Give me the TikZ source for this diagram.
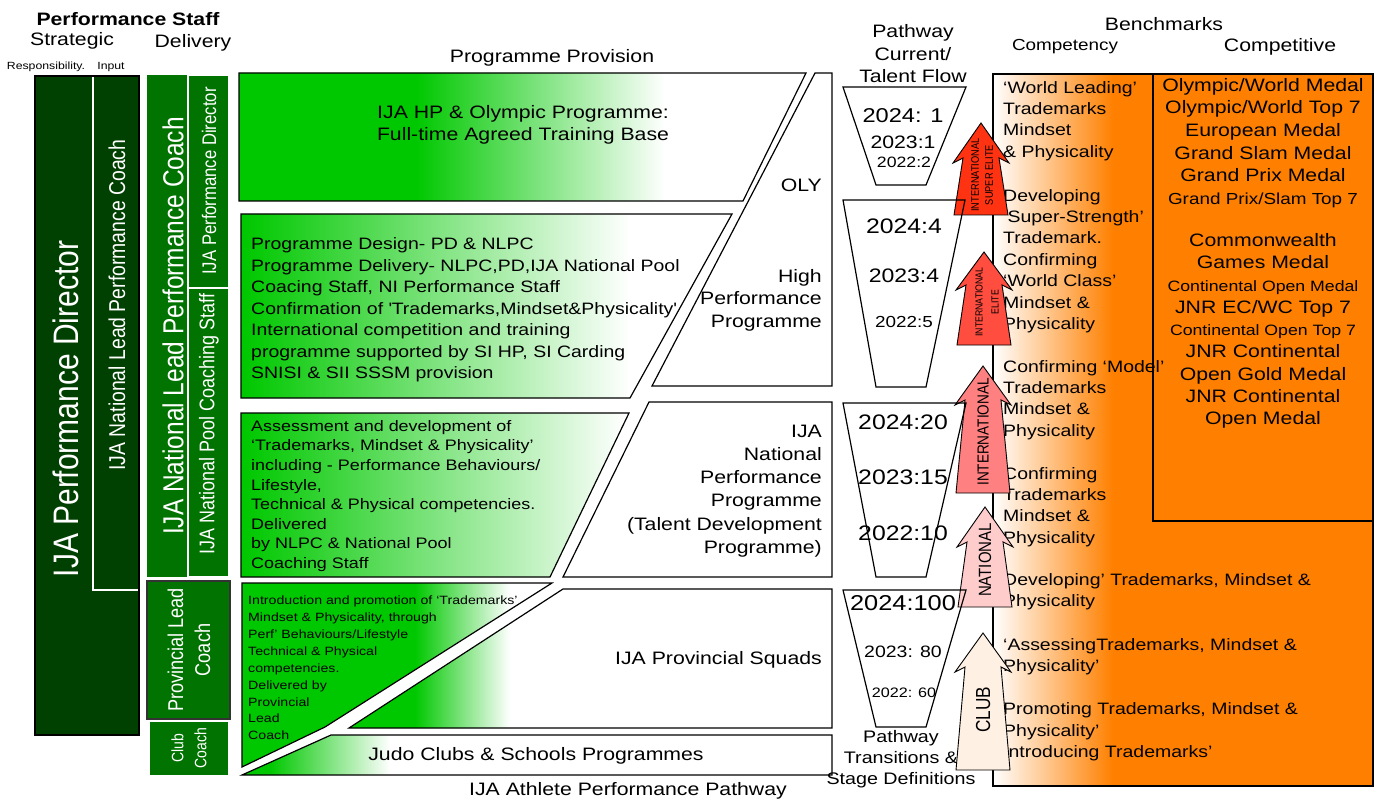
\documentclass[tikz,border=0pt]{standalone}
\usepackage{fontspec}
\setmainfont{Liberation Sans}[FakeStretch=1.18]
\newfontfamily\rotfont{Liberation Sans}[FakeStretch=0.847]
\usetikzlibrary{positioning}

\newcommand{\fsize}[2]{\fontsize{#1}{#2}\selectfont}
% up-pointing stage arrow: centre x, tip y, head y, foot y, colour
\newcommand{\stagearrow}[5]{%
	\filldraw[fill=#5,draw=black,line width=0.9pt] (#1,#2) -- (#1-28,#3) -- (#1-18,#3-5) -- (#1-27,#4)
		-- (#1+27,#4) -- (#1+18,#3-5) -- (#1+28,#3) -- cycle;}

\begin{document}
\begin{tikzpicture}
		[x=1pt,y=-1pt,
		%Styles
		every node/.style={inner sep=0pt},
		box line/.style={draw=black,line width=1.2pt},
		heading/.style={font=\fsize{18}{22.5}},
		side text/.style={rotate=90,text=white,align=center},
		stage text/.style={rotate=90,align=center},
		left block/.style={anchor=west,align=left},
		right block/.style={anchor=east,align=right},
		green fade/.style 2 args={path picture={
			\fill[provgreen] (0,0) rectangle (#1,800);
			\shade[left color=provgreen,right color=white] (#1,0) rectangle (#2,800);}},
		orange fade/.style 2 args={path picture={
			\fill[benchorange] (#2,0) rectangle (1400,800);
			\shade[left color=white,right color=benchorange] (#1,0) rectangle (#2,800);}}
		]
		
		%Colors
		\definecolor{darkgreen}{RGB}{0,64,0}
		\definecolor{delivgreen}{RGB}{0,115,0}
		\definecolor{provgreen}{RGB}{0,200,0}
		\definecolor{benchorange}{RGB}{255,128,0}
		\definecolor{supercol}{RGB}{255,51,17}
		\definecolor{elitecol}{RGB}{255,77,64}
		\definecolor{intlcol}{RGB}{255,128,128}
		\definecolor{natlcol}{RGB}{255,204,204}
		\definecolor{clubcol}{RGB}{255,240,228}
		
		%The graphic
		\useasboundingbox (0,0) rectangle (1380,799);
		
		% headings
		\node[font=\bfseries\fsize{18}{22}] (staff) at (128,19) {Performance Staff};
		\node[heading] (strategic) at (72,41) {Strategic};
		\node[heading] (delivery) at (193,43) {Delivery};
		\node[font=\fsize{10.4}{12}] (resp) at (46,67) {Responsibility.};
		\node[font=\fsize{10.4}{12}] (input) at (111,67) {Input};
		\node[heading] (provision) at (552,58) {Programme Provision};
		\node[heading,align=center] (flowhead) at (913,54) {Pathway\\Current/\\Talent Flow};
		\node[heading] (benchhead) at (1164,24) {Benchmarks};
		\node[font=\fsize{16}{20}] (competency) at (1065,47) {Competency};
		\node[heading] (competitive) at (1280,47) {Competitive};
		
		% strategic bars
		\fill[darkgreen] (35,76) rectangle (139,735);
		\draw[white,line width=1.2pt] (93,77) -- (93,590) -- (139,590);
		\draw[black,line width=1.5pt] (35,76) rectangle (139,735);
		\node[side text,font=\rotfont\fsize{35.4}{36}] (pd) at (66,409) {IJA Performance Director};
		\node[side text,font=\rotfont\fsize{22.9}{24}] (nlpc) at (117,305) {IJA National Lead Performance Coach};
		
		% delivery bars
		\fill[delivgreen] (147,75) rectangle (229,577);
		\draw[white,line width=1.2pt] (188,75) rectangle (229,288) (188,288) rectangle (229,577);
		\node[side text,font=\rotfont\fsize{28.9}{30}] (nlpcdel) at (173,326) {IJA National Lead Performance Coach};
		\node[side text,font=\rotfont\fsize{19.7}{20}] (pddel) at (209,181) {IJA Performance Director};
		\node[side text,font=\rotfont\fsize{21.2}{22}] (pool) at (209,424) {IJA National Pool Coaching Staff};
		\filldraw[fill=delivgreen,draw=black!80,line width=1.2pt] (147,581) rectangle (230,719);
		\node[side text,font=\rotfont\fsize{21.4}{27}] (provcoach) at (189,650) {Provincial Lead\\Coach};
		\filldraw[fill=delivgreen,draw=white,line width=1.2pt] (149,721) rectangle (229,776);
		\node[side text,font=\rotfont\fsize{16.5}{23}] (clubcoach) at (189,748) {Club\\Coach};
		
		% programme provision
		\draw[box line,green fade={416}{665}] (239,73) -- (806,73) -- (743,201) -- (239,201) -- cycle;
		\node[heading,align=center] (olyprov) at (523,125) {IJA HP \& Olympic Programme:\\Full-time Agreed Training Base};
		\draw[box line,green fade={245}{630}] (241,214) -- (732,214) -- (630,398) -- (241,398) -- cycle;
		\node[left block,font=\fsize{16.5}{21.5}] (hpprov) at (251,310) {Programme Design- PD \& NLPC\\
			Programme Delivery- NLPC,PD,IJA National Pool\\
			Coacing Staff, NI Performance Staff\\
			Confirmation of \textquotesingle Trademarks,Mindset\&Physicality\textquotesingle\\
			International competition and training\\
			programme supported by SI HP, SI Carding\\
			SNISI \& SII SSSM provision};
		\draw[box line,green fade={245}{625}] (241,413) -- (629,413) -- (550,577) -- (241,577) -- cycle;
		\node[left block,font=\fsize{15.2}{19.6}] (natprov) at (251,496) {Assessment and development of\\
			‘Trademarks, Mindset \& Physicality’\\
			including - Performance Behaviours/\\
			Lifestyle,\\
			Technical \& Physical competencies.\\
			Delivered\\
			by NLPC \& National Pool\\
			Coaching Staff};
		\draw[box line,green fade={415}{510}] (242,583) -- (552,583) -- (325,727) -- (242,767) -- cycle;
		\node[left block,font=\fsize{12}{16.9}] (provprov) at (248,668) {Introduction and promotion of ‘Trademarks’\\
			Mindset \& Physicality, through\\
			Perf’ Behaviours/Lifestyle\\
			Technical \& Physical\\
			competencies.\\
			Delivered by\\
			Provincial\\
			Lead\\
			Coach};
		
		% pathway stages
		\draw[box line] (815,73) -- (832,73) -- (832,386) -- (652,386) -- cycle;
		\node[heading,anchor=east] (oly) at (822,185) {OLY};
		\node[heading,right block] (hpp) at (822,300) {High\\Performance\\Programme};
		\draw[box line] (649,402) -- (832,402) -- (832,577) -- (563,577) -- cycle;
		\node[heading,right block,font=\fsize{18}{23.2}] (npp) at (822,491) {IJA\\National\\Performance\\Programme\\(Talent Development\\Programme)};
		\draw[box line,green fade={415}{510}] (563,589) -- (832,589) -- (832,728) -- (349,728) -- cycle;
		\node[heading,anchor=east] (squads) at (822,660) {IJA Provincial Squads};
		\draw[box line,green fade={270}{390}] (331,735) -- (832,735) -- (832,775) -- (242,775) -- cycle;
		\node[heading] (clubs) at (536,756) {Judo Clubs \& Schools Programmes};
		\node[heading] (pathway) at (628,791) {IJA Athlete Performance Pathway};
		\node[font=\fsize{16.7}{21},align=center] (transitions) at (901,759) {Pathway\\Transitions \&\\Stage Definitions};
		
		% benchmarks
		\draw[box line,orange fade={993}{1113}] (993,74) rectangle (1373,786);
		\draw[box line,fill=benchorange] (1153,74) rectangle (1373,521);
		\node[left block,font=\fsize{16.5}{21.4}] (bench1) at (1003,121) {‘World Leading’\\Trademarks\\Mindset\\\& Physicality};
		\node[left block,font=\fsize{16.5}{21.4}] (bench2) at (1003,261) {Developing\\‘Super-Strength’\\Trademark.\\Confirming\\‘World Class’\\Mindset \&\\Physicality};
		\node[left block,font=\fsize{16.5}{21.4}] (bench3) at (1003,400) {Confirming ‘Model’\\Trademarks\\Mindset \&\\Physicality};
		\node[left block,font=\fsize{16.5}{21.4}] (bench4) at (1003,507) {Confirming\\Trademarks\\Mindset \&\\Physicality};
		\node[left block,font=\fsize{16.5}{21.4}] (bench5) at (1003,592) {Developing’ Trademarks, Mindset \&\\Physicality};
		\node[left block,font=\fsize{16.5}{21.4}] (bench6) at (1003,657) {‘AssessingTrademarks, Mindset \&\\Physicality’};
		\node[left block,font=\fsize{16.5}{21.4}] (bench7) at (1003,732) {Promoting Trademarks, Mindset \&\\Physicality’\\Introducing Trademarks’};
		\node[align=center,font=\fsize{18}{22.6}] (medals1) at (1263,143) {Olympic/World Medal\\Olympic/World Top 7\\European Medal\\Grand Slam Medal\\Grand Prix Medal\\{\fsize{16}{22.6}Grand Prix/Slam Top 7}};
		\node[align=center,font=\fsize{18}{22.3}] (medals2) at (1263,331) {Commonwealth\\Games Medal\\{\fsize{15}{22.3}Continental Open Medal}\\JNR EC/WC Top 7\\{\fsize{15}{22.3}Continental Open Top 7}\\JNR Continental\\Open Gold Medal\\JNR Continental\\Open Medal};
		
		% stage arrows
		\stagearrow{981}{123}{163}{215}{supercol}
		\stagearrow{984}{252}{290}{345}{elitecol}
		\stagearrow{983}{366}{405}{493}{intlcol}
		\stagearrow{985}{507}{547}{607}{natlcol}
		\stagearrow{983}{633}{672}{770}{clubcol}
		\node[stage text,font=\rotfont\fsize{10.9}{14}] (superelite) at (982,175) {INTERNATIONAL\\SUPER ELITE};
		\node[stage text,font=\rotfont\fsize{10.3}{16}] (elite) at (987,302) {INTERNATIONAL\\ELITE};
		\node[stage text,font=\rotfont\fsize{16}{16}] (intl) at (983,432) {INTERNATIONAL};
		\node[stage text,font=\rotfont\fsize{17.7}{18}] (natl) at (985,560) {NATIONAL};
		\node[stage text,font=\rotfont\fsize{20.3}{21}] (club) at (983,710) {CLUB};
		
		% talent flow funnels
		\draw[box line] (843,87) -- (966,87) -- (926,185) -- (876,185) -- cycle;
		\node[font=\fsize{20}{20}] (oly24) at (903,116) {2024: 1};
		\node[font=\fsize{18}{18}] (oly23) at (903,142) {2023:1};
		\node[font=\fsize{15}{15}] (oly22) at (904,162) {2022:2};
		\draw[box line] (843,200) -- (965,200) -- (926,387) -- (876,387) -- cycle;
		\node[font=\fsize{21}{21}] (hp24) at (904,226) {2024:4};
		\node[font=\fsize{19.5}{20}] (hp23) at (904,276) {2023:4};
		\node[font=\fsize{16}{16}] (hp22) at (904,322) {2022:5};
		\draw[box line] (843,403) -- (966,403) -- (926,577) -- (876,577) -- cycle;
		\node[font=\fsize{21}{21}] (np24) at (903,422) {2024:20};
		\node[font=\fsize{21}{21}] (np23) at (903,477) {2023:15};
		\node[font=\fsize{21}{21}] (np22) at (903,533) {2022:10};
		\draw[box line] (843,590) -- (966,590) -- (926,727) -- (876,727) -- cycle;
		\node[font=\fsize{21.5}{22}] (ps24) at (903,603) {2024:100};
		\node[font=\fsize{16.5}{17}] (ps23) at (903,652) {2023: 80};
		\node[font=\fsize{13.7}{14}] (ps22) at (904,693) {2022: 60};
	\end{tikzpicture}
\end{document}
